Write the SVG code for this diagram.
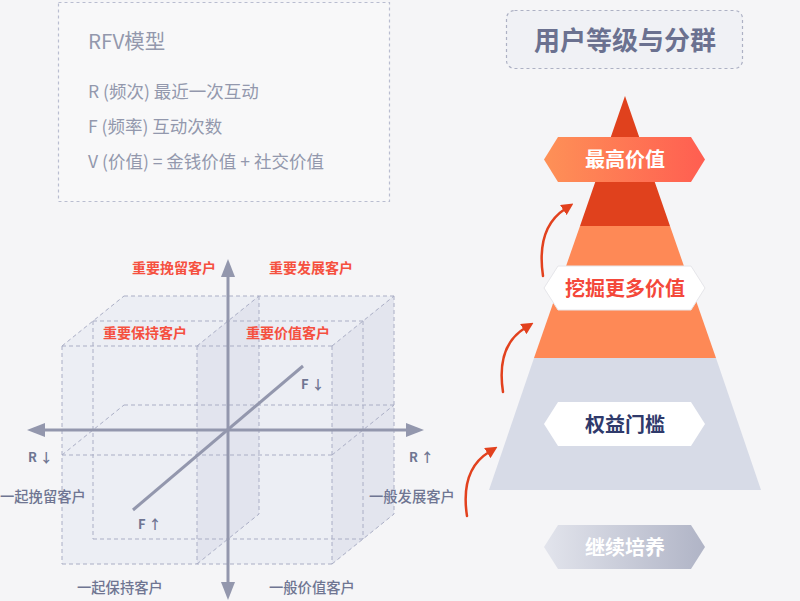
<svg xmlns="http://www.w3.org/2000/svg" width="800" height="601" viewBox="0 0 800 601">
<defs>
<style>
.cjk{font-family:"Noto Sans CJK SC","Noto Sans",sans-serif}
.info{font-size:17.5px;fill:#9398ad}
.red{font-size:14px;font-weight:700;fill:#f5503f}
.gl{font-size:14.3px;font-weight:500;fill:#6f7592}
.ax{font-size:13px;font-weight:700;fill:#6f7592}
.dash{fill:none;stroke:#aaaec5;stroke-width:1;stroke-dasharray:4 3}
.axis{stroke:#9397ad;stroke-width:3;fill:none}
.axh{fill:#9397ad}
.arr{fill:none;stroke:#e2411e;stroke-width:2.5;stroke-linecap:round}
.lbl{font-size:20px;font-weight:700;text-anchor:middle}
</style>
<linearGradient id="gTop" x1="0" y1="0" x2="1" y2="0">
<stop offset="0" stop-color="#fe9157"/>
<stop offset="1" stop-color="#ff5e51"/>
</linearGradient>
<linearGradient id="gGray" x1="0" y1="0" x2="1" y2="0">
<stop offset="0" stop-color="#e2e4ec"/>
<stop offset="1" stop-color="#b0b4c6"/>
</linearGradient>
<marker id="ah" markerWidth="12" markerHeight="12" refX="2" refY="6" orient="auto" markerUnits="userSpaceOnUse">
<path d="M0,0 L12,6 L0,12 Z" fill="#e2411e"/>
</marker>
</defs>
<rect width="800" height="601" fill="#f5f5f7"/>

<g id="rfv-box">
<rect x="58.5" y="2.5" width="331" height="199" fill="#f8f8f9" stroke="#b9bdd0" stroke-width="1.2" stroke-dasharray="3 3"/>
<text class="cjk" x="88" y="49" font-size="20.5" fill="#9398ad">RFV模型</text>
<text class="cjk info" x="88" y="98">R (频次) 最近一次互动</text>
<text class="cjk info" x="88" y="133">F (频率) 互动次数</text>
<text class="cjk info" x="88" y="168">V (价值) = 金钱价值 + 社交价值</text>
</g>

<g id="title-box">
<rect x="506.5" y="10.5" width="236" height="58" rx="8" fill="#f0f1f5" stroke="#adb1c4" stroke-width="1.2" stroke-dasharray="3 3"/>
<text class="cjk" x="625" y="50" font-size="26" font-weight="700" fill="#6b7190" text-anchor="middle">用户等级与分群</text>
</g>

<g id="cube">
<polygon points="62,346 124,296 394,296 394,514 332,564 62,564" fill="#eceef4"/>
<polygon points="197,346 259,296 259,514 197,564" fill="#e2e4ee"/>
<polygon points="332,346 394,296 394,514 332,564" fill="#e3e5ee"/>
<path class="dash" d="M124,296H394M93,321H363M62,346H332M62,346L124,296M197,346L259,296M332,346L394,296M394,296V514M363,321V539M332,346V564M332,455L394,405M332,564L394,514M62,346V564M62,564H332M62,455H332M197,346V564M93,321V539M93,539H363M124,405H394M259,296V514M62,455L124,405M197,564L259,514"/>
</g>

<g id="axes">
<line class="axis" x1="228" y1="272" x2="228" y2="586"/>
<polygon class="axh" points="228,259 221,277 235,277"/>
<polygon class="axh" points="228,600 221,582 235,582"/>
<line class="axis" x1="41" y1="430" x2="410" y2="430"/>
<polygon class="axh" points="27,430 45,423 45,437"/>
<polygon class="axh" points="424,430 406,423 406,437"/>
<line class="axis" x1="303" y1="366" x2="133" y2="510"/>
</g>

<g id="seg-labels">
<text class="cjk red" x="132" y="273">重要挽留客户</text>
<text class="cjk red" x="269" y="273">重要发展客户</text>
<text class="cjk red" x="103" y="338">重要保持客户</text>
<text class="cjk red" x="246" y="338">重要价值客户</text>
<text class="cjk gl" x="0" y="502">一起挽留客户</text>
<text class="cjk gl" x="369" y="502">一般发展客户</text>
<text class="cjk gl" x="77" y="593">一起保持客户</text>
<text class="cjk gl" x="269" y="593">一般价值客户</text>
<text class="cjk ax" x="301" y="389">F ↓</text>
<text class="cjk ax" x="28" y="462">R ↓</text>
<text class="cjk ax" x="409" y="462">R ↑</text>
<text class="cjk ax" x="138" y="529">F ↑</text>
</g>

<g id="pyramid">
<polygon points="625,96 670,226 580,226" fill="#e0411d"/>
<polygon points="580,226 670,226 716,358 534,358" fill="#fe8956"/>
<polygon points="534,358 716,358 761,490 489,490" fill="#d7dbe7"/>
</g>

<g id="arrows">
<path class="arr" d="M543,276 Q536,228 565,209" marker-end="url(#ah)"/>
<path class="arr" d="M503,392 Q496,346 525,328" marker-end="url(#ah)"/>
<path class="arr" d="M467,516 Q460,470 489,452" marker-end="url(#ah)"/>
</g>

<g id="lvl-top">
<polygon points="544,159.5 558,137 691,137 705,159.5 691,182 558,182" fill="url(#gTop)"/>
<text class="cjk lbl" x="625" y="167" fill="#ffffff">最高价值</text>
</g>
<g id="lvl-mine">
<polygon points="544,288 558,266 691,266 705,288 691,310 558,310" fill="#ffffff" stroke="#e6e6ea" stroke-width="1"/>
<text class="cjk lbl" x="625" y="296" fill="#f4483a">挖掘更多价值</text>
</g>
<g id="lvl-rights">
<polygon points="544,424 558,402 691,402 705,424 691,446 558,446" fill="#ffffff"/>
<text class="cjk lbl" x="625" y="432" fill="#2f3a6b">权益门槛</text>
</g>
<g id="lvl-nurture">
<polygon points="544,547 558,525 691,525 705,547 691,569 558,569" fill="url(#gGray)"/>
<text class="cjk lbl" x="625" y="555" fill="#ffffff">继续培养</text>
</g>
</svg>
